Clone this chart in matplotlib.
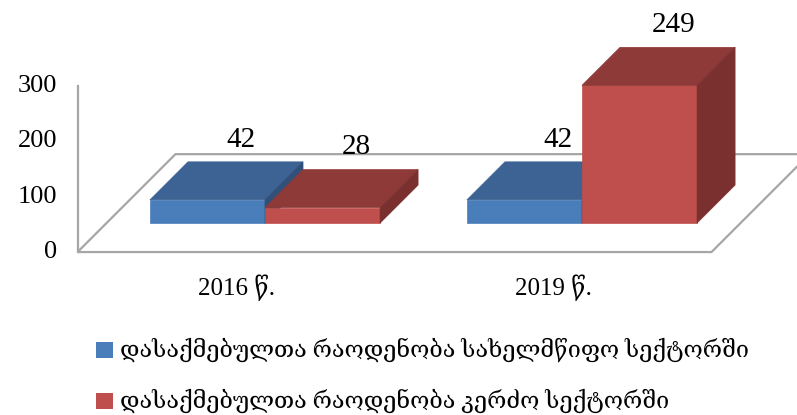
import matplotlib
matplotlib.use("Agg")
import matplotlib.pyplot as plt
from matplotlib.patches import Polygon, Rectangle

# data
categories = ["2016 წ.", "2019 წ."]
series_names = ["დასაქმებულთა რაოდენობა სახელმწიფო სექტორში",
                "დასაქმებულთა რაოდენობა კერძო სექტორში"]
public_values = [42, 42]
private_values = [28, 249]
y_ticks = [0, 100, 200, 300]

FONT = ["Liberation Serif", "DejaVu Serif", "DejaVu Sans"]
plt.rcParams["font.family"] = FONT

# colors: front, top, side
blue = ("#4a7ebb", "#3c6393", "#30507a")
red = ("#bf4f4c", "#8e3a38", "#7a302e")
grid_col = "#a6a6a6"

# oblique projection: depth d in [0, 1] shifts right and up
DX = 0.309   # category units per unit depth
DY = 177.0   # value units per unit depth
BAR_W = 0.363
D0, D1 = 0.296, 0.684   # bar depth range


def proj(x, y, d):
    return (x + d * DX, y + d * DY)


fig = plt.figure(figsize=(7.97, 4.15), dpi=100)
ax = fig.add_axes([0, 0, 1, 1])
ax.set_xlim(-0.7445, 1.7697)
ax.set_ylim(-294.6, 455.7)
ax.axis("off")

# floor and wall lines
x_lo, x_hi = -0.5, 1.5
floor = [proj(x_lo, 0, 0), proj(x_hi, 0, 0), proj(x_hi, 0, 1), proj(x_lo, 0, 1)]
ax.add_patch(Polygon(floor, closed=True, facecolor="none", edgecolor=grid_col,
                     lw=1.6, zorder=1, clip_on=True))
ax.plot([x_lo, x_lo], [0, y_ticks[-1]], color=grid_col, lw=1.6, zorder=1)

for t in y_ticks:
    ax.text(x_lo - 0.065, t, str(t), ha="right", va="center", fontsize=19,
            family=FONT)

for i, c in enumerate(categories):
    ax.text(i, -65, c, ha="center", va="center", fontsize=18, family=FONT)


def draw_box(x0, x1, h, cols, label):
    front = [proj(x0, 0, D0), proj(x1, 0, D0), proj(x1, h, D0), proj(x0, h, D0)]
    top = [proj(x0, h, D0), proj(x1, h, D0), proj(x1, h, D1), proj(x0, h, D1)]
    side = [proj(x1, 0, D0), proj(x1, 0, D1), proj(x1, h, D1), proj(x1, h, D0)]
    for poly, col in ((front, cols[0]), (top, cols[1]), (side, cols[2])):
        ax.add_patch(Polygon(poly, closed=True, facecolor=col,
                             edgecolor=col, lw=0.5, zorder=3))
    lx, ly = proj((x0 + x1) / 2, h, D1)
    ax.annotate(str(label), (lx, ly), xytext=(-3, 16), textcoords="offset points",
                ha="center", va="center", fontsize=21, family=FONT, zorder=5)


for i in range(len(categories)):
    draw_box(i - BAR_W, i, public_values[i], blue, public_values[i])
    draw_box(i, i + BAR_W, private_values[i], red, private_values[i])

# legend
W, H = 797, 415
for k, (name, cols) in enumerate(zip(series_names, (blue, red))):
    yc = (350, 401)[k]
    fig.patches.append(Rectangle((96 / W, (H - yc - 8) / H), 17 / W, 16 / H,
                                 transform=fig.transFigure, facecolor=cols[0],
                                 edgecolor="none"))
    fig.text(120 / W, (H - yc) / H, name, ha="left", va="center",
             fontsize=16.8, family=FONT)

fig.savefig("out.png", dpi=100)
